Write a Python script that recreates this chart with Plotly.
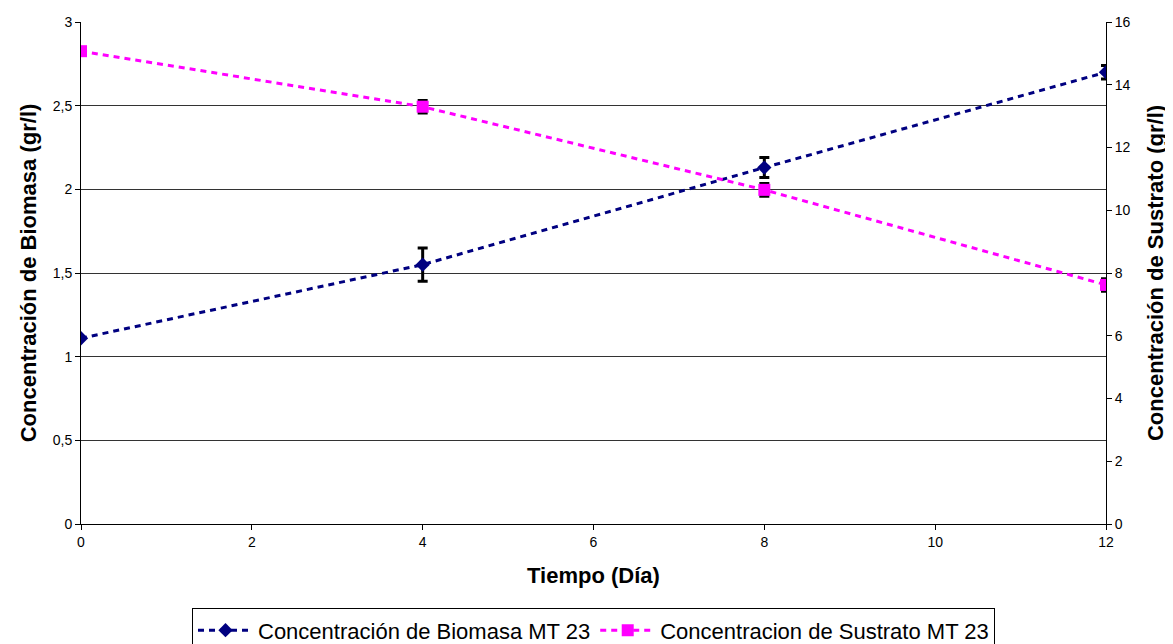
import plotly.graph_objects as go

dias = [0, 4, 8, 12]
biomasa = [1.11, 1.55, 2.13, 2.70]
biomasa_err = [0.0, 0.10, 0.06, 0.04]
sustrato = [15.07, 13.30, 10.65, 7.62]
sustrato_err = [0.0, 0.2, 0.2, 0.2]

left_ticks = [0, 0.5, 1, 1.5, 2, 2.5, 3]
left_labels = ["0", "0,5", "1", "1,5", "2", "2,5", "3"]
right_ticks = [0, 2, 4, 6, 8, 10, 12, 14, 16]
x_ticks = [0, 2, 4, 6, 8, 10, 12]

font = "Liberation Sans, Arial, sans-serif"

fig = go.Figure()
fig.add_trace(go.Scatter(
    x=dias, y=biomasa, name="Concentración de Biomasa MT 23",
    mode="lines+markers",
    line=dict(color="#000080", width=3, dash="6px,5px"),
    marker=dict(symbol="diamond", size=11, color="#000080"),
    error_y=dict(type="data", array=biomasa_err, color="black", thickness=3, width=5),
    yaxis="y"))
fig.add_trace(go.Scatter(
    x=dias, y=sustrato, name="Concentracion de Sustrato MT 23",
    mode="lines+markers",
    line=dict(color="#FF00FF", width=3, dash="6px,5px"),
    marker=dict(symbol="square", size=12, color="#FF00FF"),
    error_y=dict(type="data", array=sustrato_err, color="black", thickness=3, width=5),
    yaxis="y2"))

fig.update_layout(
    width=1165, height=636,
    margin=dict(l=73, r=67, t=14, b=120, autoexpand=False),
    paper_bgcolor="white", plot_bgcolor="white",
    separators=", ",
    font=dict(family=font, size=14, color="black"),
    showlegend=True,
    legend=dict(orientation="h", x=0.5, xanchor="center", y=-0.168, yanchor="top",
                bordercolor="black", borderwidth=1, font=dict(size=22),
                itemwidth=55, tracegroupgap=0),
    xaxis=dict(range=[0, 12], tickvals=x_ticks, showline=True, linecolor="black",
               linewidth=1, ticks="outside", ticklen=5, tickcolor="black",
               showgrid=False, zeroline=False, automargin=False,
               title=dict(text="<b>Tiempo (Día)</b>", font=dict(size=22), standoff=18),
               tickfont=dict(size=14)),
    yaxis=dict(range=[0, 3], tickvals=left_ticks, ticktext=left_labels,
               showline=True, linecolor="black", linewidth=1, ticks="outside",
               ticklen=5, tickcolor="black", showgrid=True, gridcolor="#333333",
               gridwidth=1, zeroline=False, automargin=False,
               title=dict(text="<b>Concentración de Biomasa (gr/l)</b>", font=dict(size=22), standoff=10),
               tickfont=dict(size=14)),
    yaxis2=dict(range=[0, 16], tickvals=right_ticks, overlaying="y", side="right",
                showline=True, linecolor="black", linewidth=1, ticks="outside",
                ticklen=5, tickcolor="black", showgrid=False, zeroline=False,
                automargin=False,
                title=dict(text="<b>Concentración de Sustrato (gr/l)</b>", font=dict(size=22), standoff=18),
                tickfont=dict(size=14)),
)

fig.write_html("out.html")
